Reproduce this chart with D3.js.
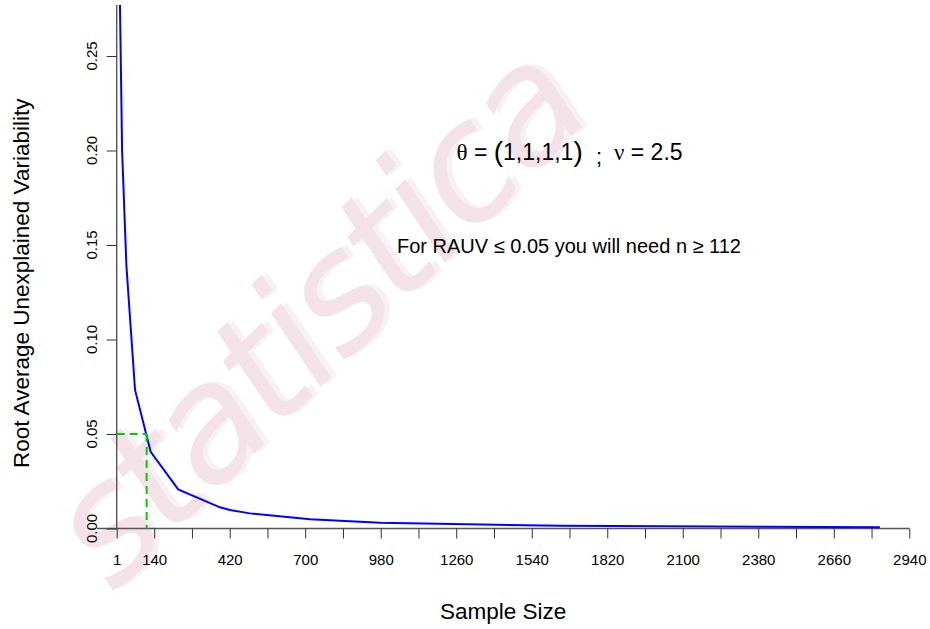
<!DOCTYPE html>
<html>
<head>
<meta charset="utf-8">
<title>Root Average Unexplained Variability</title>
<script src="https://d3js.org/d3.v7.min.js"></script>
<style>
  body { margin: 0; background: #fff; }
  svg { display: block; font-family: "Liberation Sans", Arial, sans-serif; }
</style>
</head>
<body>
<svg id="chart"></svg>
<script>
// values
const sampleSizes = [9, 21, 37, 69, 127, 229, 384, 421, 495, 557, 718, 977, 1299, 1645, 2831];
const rauvValues = [0.318, 0.200, 0.139, 0.0733, 0.0406, 0.0207, 0.0112, 0.0098, 0.0080, 0.0071, 0.0049, 0.0031, 0.0022, 0.0015, 0.0006];

const xTicks = [1, 140, 280, 420, 560, 700, 840, 980, 1120, 1260, 1400, 1540, 1680, 1820, 1960, 2100, 2240, 2380, 2520, 2660, 2800, 2940];
const xTickLabels = [1, 140, 420, 700, 980, 1260, 1540, 1820, 2100, 2380, 2660, 2940];
const yTicks = [0, 0.05, 0.10, 0.15, 0.20, 0.25];

const targetRauv = 0.05;
const neededN = 112;

const width = 930, height = 629;

const svg = d3.select("#chart")
    .attr("width", width)
    .attr("height", height);

const x = d3.scaleLinear().domain([1, 2940]).range([116.7, 909.3]);
const y = d3.scaleLinear().domain([0, 0.25]).range([528.5, 56]);

// plot region limits (data units)
const xMin = -72, yMax = 0.277, yMin = -0.0175;

// watermark
const wm = svg.append("g")
    .attr("transform", "translate(114,594) rotate(-45)")
    .style("font-family", "'DejaVu Sans', sans-serif")
    .style("font-style", "italic")
    .style("font-size", "160px")
    .style("letter-spacing", "-5px");
wm.append("text")
    .attr("x", 5).attr("y", 3)
    .attr("fill", "#f8f1f3")
    .text("statistica");
wm.append("text")
    .attr("fill", "#f3e3e8")
    .text("statistica");

svg.append("clipPath").attr("id", "plotclip")
  .append("rect")
    .attr("x", x(xMin)).attr("y", y(yMax))
    .attr("width", width - x(xMin)).attr("height", y(yMin) - y(yMax));

// axis lines
svg.append("line")
    .attr("x1", x(xMin)).attr("x2", x(2940))
    .attr("y1", y(0)).attr("y2", y(0))
    .attr("stroke", "#555").attr("stroke-width", 1.4);
svg.append("line")
    .attr("x1", x(1)).attr("x2", x(1))
    .attr("y1", y(yMax)).attr("y2", y(0))
    .attr("stroke", "#555").attr("stroke-width", 1.4);

const xAxis = svg.append("g")
    .attr("transform", `translate(0,${y(0)})`)
    .call(d3.axisBottom(x)
        .tickValues(xTicks)
        .tickSize(10)
        .tickPadding(16)
        .tickFormat(d => xTickLabels.includes(d) ? d : ""));
xAxis.select(".domain").remove();
xAxis.selectAll("line").attr("stroke", "#333");
xAxis.selectAll("text")
    .style("font-size", "15px")
    .style("font-family", "'Liberation Sans', Arial, sans-serif")
    .attr("fill", "#000");

const yAxis = svg.append("g")
    .attr("transform", `translate(${x(1)},0)`)
    .call(d3.axisLeft(y)
        .tickValues(yTicks)
        .tickSize(10)
        .tickFormat(""));
yAxis.select(".domain").remove();
yAxis.selectAll("line").attr("stroke", "#333");

svg.append("g").selectAll("text")
    .data(yTicks)
    .join("text")
    .attr("transform", d => `translate(96.5,${y(d)}) rotate(-90)`)
    .attr("text-anchor", "middle")
    .style("font-size", "15px")
    .text(d => d3.format(".2f")(d));

// axis titles
svg.append("text")
    .attr("x", (x(xMin) + x(2940)) / 2)
    .attr("y", 619)
    .attr("text-anchor", "middle")
    .style("font-size", "22.5px")
    .text("Sample Size");

svg.append("text")
    .attr("transform", `translate(29,${(y(yMax) + y(yMin)) / 2}) rotate(-90)`)
    .attr("text-anchor", "middle")
    .style("font-size", "22.5px")
    .text("Root Average Unexplained Variability");

// curve
const pts = sampleSizes.map((n, i) => [n, rauvValues[i]]);
svg.append("path")
    .datum(pts)
    .attr("clip-path", "url(#plotclip)")
    .attr("fill", "none")
    .attr("stroke", "#0000ff")
    .attr("stroke-width", 2)
    .attr("d", d3.line().x(d => x(d[0])).y(d => y(d[1])));

// guide for RAUV = 0.05
svg.append("line")
    .attr("x1", x(1)).attr("x2", x(neededN))
    .attr("y1", y(targetRauv)).attr("y2", y(targetRauv))
    .attr("stroke", "#00cd00").attr("stroke-width", 2)
    .attr("stroke-dasharray", "8,5");
svg.append("line")
    .attr("x1", x(neededN)).attr("x2", x(neededN))
    .attr("y1", y(targetRauv)).attr("y2", y(0))
    .attr("stroke", "#00cd00").attr("stroke-width", 2)
    .attr("stroke-dasharray", "8,5");

// annotations
const ann = svg.append("text")
    .attr("x", 456.5).attr("y", 159.5)
    .style("font-size", "23px");
ann.append("tspan").style("font-family", "'Liberation Serif', serif").text("θ");
ann.append("tspan").text(" = ");
ann.append("tspan").style("font-size", "28px").attr("dy", 1).text("(");
ann.append("tspan").attr("dy", -1).text("1,1,1,1");
ann.append("tspan").style("font-size", "28px").attr("dy", 1).text(")");

svg.append("text")
    .attr("x", 596).attr("y", 164)
    .style("font-size", "22px")
    .text(";");

const ann2 = svg.append("text")
    .attr("x", 614).attr("y", 159.5)
    .style("font-size", "23px");
ann2.append("tspan").style("font-family", "'Liberation Serif', serif").text("ν");
ann2.append("tspan").text(" = 2.5");

svg.append("text")
    .attr("x", 397).attr("y", 252.5)
    .style("font-size", "20px")
    .text(`For RAUV ≤ ${targetRauv.toFixed(2)} you will need n ≥ ${neededN}`);
</script>
</body>
</html>
